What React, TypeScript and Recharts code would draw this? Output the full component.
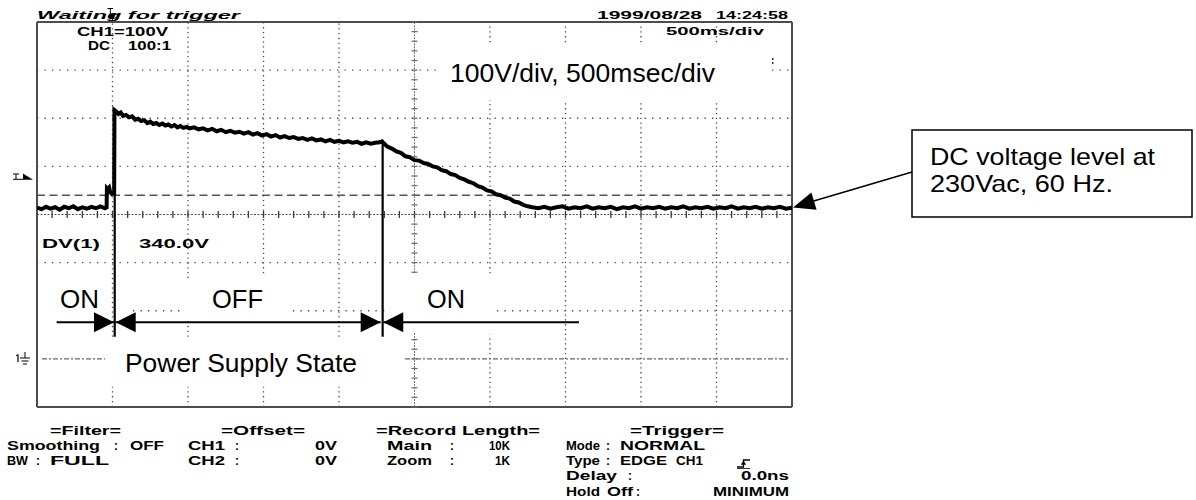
import React from 'react';
import { ComposedChart, Line, XAxis, YAxis, ReferenceLine, ReferenceDot } from 'recharts';

// CH1 trace: time (s, 500 ms/div) and voltage (V, 100 V/div)
const timeSec = [
  0.00, 0.03, 0.06, 0.09, 0.12, 0.15, 0.18, 0.21, 0.24, 0.27, 0.30, 0.33, 0.36, 0.39, 0.42, 0.45, 0.461,
  0.463, 0.47, 0.478, 0.485, 0.495, 0.505, 0.511, 0.513,
  0.525, 0.54, 0.555, 0.57, 0.59, 0.61, 0.63, 0.65, 0.67, 0.69,
  0.71, 0.73, 0.75, 0.77, 0.79, 0.81, 0.83, 0.85, 0.87, 0.89,
  0.91, 0.93, 0.95, 0.97, 0.99, 1.01, 1.04, 1.07, 1.10, 1.13,
  1.16, 1.19, 1.22, 1.25, 1.28, 1.31, 1.34, 1.37, 1.40, 1.43,
  1.46, 1.49, 1.52, 1.55, 1.58, 1.61, 1.64, 1.67, 1.70, 1.73,
  1.76, 1.79, 1.82, 1.85, 1.88, 1.91, 1.94, 1.97, 2.00, 2.03,
  2.06, 2.09, 2.12, 2.15, 2.18, 2.21, 2.24, 2.27, 2.285,
  2.30, 2.32, 2.35, 2.38, 2.41, 2.44, 2.47, 2.50, 2.53, 2.56,
  2.59, 2.62, 2.65, 2.68, 2.71, 2.74, 2.77, 2.80, 2.83, 2.86,
  2.89, 2.92, 2.95, 2.98, 3.01, 3.04, 3.07, 3.10, 3.13, 3.16,
  3.19, 3.22, 3.25, 3.28,
  3.32, 3.36, 3.40, 3.44, 3.48, 3.52, 3.56, 3.60, 3.64, 3.68,
  3.72, 3.76, 3.80, 3.84, 3.88, 3.92, 3.96, 4.00, 4.04, 4.08,
  4.12, 4.16, 4.20, 4.24, 4.28, 4.32, 4.36, 4.40, 4.44, 4.48,
  4.52, 4.56, 4.60, 4.64, 4.68, 4.72, 4.76, 4.80, 4.84, 4.88,
  4.92, 4.96, 5.00,
];
const ch1Volts = [
  314, 311, 316, 312, 315, 310, 316, 313, 317, 311, 315, 312, 316, 313, 317, 313, 315,
  355, 353, 356, 347, 343, 345, 341, 517,
  514, 509, 512, 505, 507, 502, 504, 497, 499, 494,
  496, 490, 493, 488, 490, 486, 489, 485, 487, 483,
  486, 481, 484, 480, 482, 479, 481, 477, 479, 475,
  478, 473, 476, 471, 474, 470, 472, 468, 471, 466,
  469, 464, 467, 462, 465, 460, 463, 459, 461, 457,
  459, 455, 458, 454, 456, 452, 455, 451, 453, 450,
  452, 449, 451, 447, 450, 447, 449, 450, 452,
  447, 441, 437, 431, 428, 421, 419, 413, 412, 407,
  405, 400, 398, 392, 390, 384, 382, 376, 373, 368,
  365, 359, 356, 350, 348, 342, 340, 335, 333, 327,
  325, 320, 317, 315,
  313, 316, 312, 315, 317, 312, 315, 313, 317, 312,
  315, 313, 316, 311, 315, 313, 317, 312, 315, 313,
  316, 312, 315, 313, 317, 312, 315, 313, 316, 312,
  315, 313, 317, 312, 315, 313, 316, 312, 315, 313,
  316, 312, 314,
];

// Screen divisions
const timeDomain = [0, 5];
const voltDomain = [-100, 700];
const cursorVolts = 340;
const centerVolts = 300;
const centerTime = 2.5;

// Power-supply state annotation (time boundaries in s)
const onOffEdges = [0.5146, 2.289];
const edgeTopVolts = [517, 449];

const W = 1196;
const H = 500;

const FONT = 'Liberation Sans, Arial, Helvetica, sans-serif';

const seg = (key: string, x1: number, y1: number, x2: number, y2: number, style: any) => (
  <ReferenceLine
    key={key}
    segment={[{ x: x1, y: y1 }, { x: x2, y: y2 }]}
    ifOverflow="visible"
    {...style}
  />
);

const hDot = { stroke: '#4a4a4a', strokeWidth: 1.3, strokeDasharray: '1.3 6.2' };
const vDot = { stroke: '#4a4a4a', strokeWidth: 1.3, strokeDasharray: '1.3 3.5' };

const vGrid: { t: number; spans: number[][] }[] = [
  { t: 0.5, spans: [[46, 700], [-100, -58]] },
  { t: 1.0, spans: [[168, 700], [46, 85], [-100, -58]] },
  { t: 1.5, spans: [[178, 700], [-100, -58]] },
  { t: 2.0, spans: [[46, 700], [-100, -58]] },
  { t: 3.0, spans: [[658, 700], [178, 538], [-100, 50]] },
  { t: 3.5, spans: [[658, 700], [-100, 538]] },
  { t: 4.0, spans: [[658, 700], [-100, 538]] },
  { t: 4.5, spans: [[658, 700], [-100, 538]] },
];
const hGrid: { v: number; spans: number[][] }[] = [
  { v: 600, spans: [[0, 2.669], [4.868, 5]] },
  { v: 500, spans: [[0, 5]] },
  { v: 400, spans: [[0, 5]] },
  { v: 200, spans: [[0, 5]] },
  { v: 100, spans: [[0.636, 0.98], [1.695, 2.3], [3.046, 5]] },
];

const hAxisTicks = Array.from({ length: 49 }, (_, i) => (i + 1) / 10);
const vAxisTicks = Array.from({ length: 41 }, (_, i) => -100 + i * 20).filter((v) => v < 54 || v > 178);

const arrowHead = (dir: 'l' | 'r') => (p: any) => {
  const cx = p.cx;
  const cy = p.cy;
  const b = dir === 'r' ? cx - 20 : cx + 20;
  return <polygon points={`${cx},${cy} ${b},${cy - 10} ${b},${cy + 10}`} fill="#000" />;
};
const hTickShape = (p: any) => (
  <line x1={p.cx} y1={p.cy - 3.5} x2={p.cx} y2={p.cy + 3.5} stroke="#3a3a3a" strokeWidth={1.3} />
);
const vTickShape = (p: any) => (
  <line x1={p.cx - 3} y1={p.cy} x2={p.cx + 3} y2={p.cy} stroke="#6a6a6a" strokeWidth={1.2} />
);

const B = ({ x, y, w, s = 12, italic = false, children }: any) => (
  <text
    x={x}
    y={y}
    fontSize={s}
    fontWeight="bold"
    fontStyle={italic ? 'italic' : 'normal'}
    fontFamily={FONT}
    fill="#000"
    {...(w ? { textLength: w, lengthAdjust: 'spacingAndGlyphs' } : {})}
  >
    {children}
  </text>
);
const R = ({ x, y, w, s = 26, children }: any) => (
  <text x={x} y={y} fontSize={s} fontFamily={FONT} fill="#000" textLength={w} lengthAdjust="spacingAndGlyphs">
    {children}
  </text>
);

export default function App() {
  const data = timeSec.map((t, i) => ({ t, v: ch1Volts[i] }));
  const frame = { stroke: '#4d4d4d', strokeWidth: 2 };
  const black = { stroke: '#000', strokeWidth: 2.2 };
  const arrowV = 76;
  const arrowBottom = 46;
  return (
    <div style={{ position: 'absolute', left: 0, top: 0, width: W, height: H, background: '#fff', overflow: 'hidden' }}>
      <ComposedChart width={W} height={H} data={data} margin={{ top: 22, right: 404, bottom: 93, left: 37 }}>
        <XAxis type="number" dataKey="t" domain={timeDomain} hide allowDataOverflow />
        <YAxis type="number" domain={voltDomain} hide allowDataOverflow />

        {vGrid.flatMap((g) => g.spans.map((s, j) => seg(`vg${g.t}-${j}`, g.t, s[0], g.t, s[1], vDot)))}
        {hGrid.flatMap((g) => g.spans.map((s, j) => seg(`hg${g.v}-${j}`, s[0], g.v, s[1], g.v, hDot)))}

        {seg('cax-v1', centerTime, 178, centerTime, 700, { stroke: '#777', strokeWidth: 1, strokeDasharray: '2 1' })}
        {seg('cax-v2', centerTime, -100, centerTime, 54, { stroke: '#777', strokeWidth: 1, strokeDasharray: '2 1' })}
        {seg('cax-h', 0, centerVolts, 5, centerVolts, { stroke: '#555', strokeWidth: 1, strokeDasharray: '2 1.5' })}
        {hAxisTicks.map((t) => (
          <ReferenceDot key={`ht${t}`} x={t} y={centerVolts} r={0} shape={hTickShape} ifOverflow="visible" />
        ))}
        {vAxisTicks.map((v) => (
          <ReferenceDot key={`vt${v}`} x={centerTime} y={v} r={0} shape={vTickShape} ifOverflow="visible" />
        ))}

        {seg('gnd1', 0.033, 0, 0.45, 0, { stroke: '#666', strokeWidth: 1.2, strokeDasharray: '5 2 2 2' })}
        {seg('gnd2', 2.437, 0, 4.987, 0, { stroke: '#666', strokeWidth: 1.2, strokeDasharray: '5 2 2 2' })}
        {seg('cursor', 0, cursorVolts, 5, cursorVolts, { stroke: '#555', strokeWidth: 1.3, strokeDasharray: '8 4.5' })}

        {seg('fl', 0, -100, 0, 700, frame)}
        {seg('fr', 5, -100, 5, 700, frame)}
        {seg('ft', 0, 700, 5, 700, frame)}
        {seg('fb', 0, -100, 5, -100, frame)}

        <Line
          type="linear"
          dataKey="v"
          stroke="#000"
          strokeWidth={4}
          dot={false}
          activeDot={false}
          isAnimationActive={false}
        />

        {seg('edge1', onOffEdges[0], edgeTopVolts[0], onOffEdges[0], arrowBottom, black)}
        {seg('edge2', onOffEdges[1], edgeTopVolts[1], onOffEdges[1], arrowBottom, black)}
        {seg('arr1', 0.13, arrowV, 0.51, arrowV, { stroke: '#000', strokeWidth: 2 })}
        {seg('arr2', 0.521, arrowV, 2.276, arrowV, { stroke: '#000', strokeWidth: 2 })}
        {seg('arr3', 2.293, arrowV, 3.589, arrowV, { stroke: '#000', strokeWidth: 2 })}
        <ReferenceDot x={0.51} y={arrowV} r={0} shape={arrowHead('r')} ifOverflow="visible" />
        <ReferenceDot x={0.521} y={arrowV} r={0} shape={arrowHead('l')} ifOverflow="visible" />
        <ReferenceDot x={2.276} y={arrowV} r={0} shape={arrowHead('r')} ifOverflow="visible" />
        <ReferenceDot x={2.293} y={arrowV} r={0} shape={arrowHead('l')} ifOverflow="visible" />
      </ComposedChart>

      <svg width={W} height={H} style={{ position: 'absolute', left: 0, top: 0, pointerEvents: 'none' }}>
        {/* header */}
        <B x={37} y={19} w={203} s={10.5} italic>Waiting for trigger</B>
        <B x={597} y={19} w={105} s={10}>1999/08/28</B>
        <B x={716} y={19} w={72} s={10}>14:24:58</B>
        <B x={77} y={36} w={91} s={12.5}>CH1=100V</B>
        <B x={88} y={50} w={22} s={12}>DC</B>
        <B x={128} y={50} w={43} s={12}>100:1</B>
        <B x={666} y={35} w={98} s={11.5}>500ms/div</B>
        <B x={42} y={247.5} w={58} s={12.5}>DV(1)</B>
        <B x={139} y={247.5} w={70} s={12.5}>340.0V</B>
        <rect x={772} y={58} width={1.5} height={2} fill="#333" />
        <rect x={772} y={62} width={1.5} height={2} fill="#333" />

        {/* trigger position marker (top) */}
        <line x1={107.5} y1={8.5} x2={113} y2={8.5} stroke="#000" strokeWidth={1} />
        <line x1={110.3} y1={8.5} x2={110.3} y2={14} stroke="#000" strokeWidth={1} />
        <polygon points="109,14 116,14 112.5,20.5" fill="#000" />
        {/* trigger level marker (left) */}
        <line x1={13} y1={174} x2={19} y2={174} stroke="#000" strokeWidth={1} />
        <line x1={16} y1={174} x2={16} y2={179} stroke="#000" strokeWidth={1} />
        <line x1={13} y1={179.3} x2={23} y2={179.3} stroke="#000" strokeWidth={1} />
        <polygon points="23,173.5 23,179.8 33,179.8" fill="#000" />
        {/* ground marker */}
        <line x1={16} y1={356} x2={18} y2={354.5} stroke="#000" strokeWidth={1} />
        <line x1={18} y1={354.5} x2={18} y2={362} stroke="#000" strokeWidth={1.2} />
        <line x1={25} y1={352} x2={25} y2={358} stroke="#000" strokeWidth={1} />
        <line x1={20} y1={358} x2={30} y2={358} stroke="#000" strokeWidth={1} />
        <line x1={21.5} y1={361} x2={28.5} y2={361} stroke="#000" strokeWidth={1} />
        <line x1={23} y1={364} x2={27} y2={364} stroke="#000" strokeWidth={1} />

        {/* annotation texts */}
        <R x={450} y={82} w={265}>100V/div, 500msec/div</R>
        <R x={60} y={308} w={39}>ON</R>
        <R x={212} y={308} w={51}>OFF</R>
        <R x={427} y={308} w={38}>ON</R>
        <R x={125} y={372} w={232}>Power Supply State</R>

        {/* callout */}
        <rect x={912} y={130} width={280} height={87} fill="#fff" stroke="#000" strokeWidth={1.5} />
        <R x={930} y={165} w={225} s={24}>DC voltage level at</R>
        <R x={930} y={192} w={183} s={24}>230Vac, 60 Hz.</R>
        <line x1={912} y1={172} x2={812} y2={201.5} stroke="#000" strokeWidth={1.5} />
        <polygon points="793,207.5 816.6,209.7 811.4,192.5" fill="#000" />

        {/* footer */}
        <B x={50} y={435} w={71}>=Filter=</B>
        <B x={221} y={435} w={84}>=Offset=</B>
        <B x={376} y={435} w={164}>=Record Length=</B>
        <B x={630} y={435} w={94}>=Trigger=</B>

        <B x={7} y={450} w={93}>Smoothing</B>
        <B x={114} y={450}>:</B>
        <B x={130} y={450} w={34}>OFF</B>
        <B x={188} y={450} w={37}>CH1</B>
        <B x={235} y={450}>:</B>
        <B x={315} y={450} w={22}>0V</B>
        <B x={387} y={450} w={45}>Main</B>
        <B x={450} y={450}>:</B>
        <B x={489} y={450} w={21}>10K</B>
        <B x={566} y={450} w={34}>Mode</B>
        <B x={606} y={450}>:</B>
        <B x={620} y={450} w={85}>NORMAL</B>

        <B x={7} y={465} w={21}>BW</B>
        <B x={36} y={465}>:</B>
        <B x={50} y={465} w={59}>FULL</B>
        <B x={188} y={465} w={37}>CH2</B>
        <B x={235} y={465}>:</B>
        <B x={315} y={465} w={22}>0V</B>
        <B x={387} y={465} w={45}>Zoom</B>
        <B x={450} y={465}>:</B>
        <B x={495} y={465} w={15}>1K</B>
        <B x={566} y={465} w={34}>Type</B>
        <B x={606} y={465}>:</B>
        <B x={620} y={465} w={47}>EDGE</B>
        <B x={676} y={465} w={27}>CH1</B>
        <path d="M737,467 H743.5 V460 H750" fill="none" stroke="#000" strokeWidth={1.3} />
        <polygon points="740.8,464.8 746.2,464.8 743.5,460.5" fill="#000" />
        <line x1={737} y1={468.5} x2={750} y2={468.5} stroke="#000" strokeWidth={0.8} />

        <B x={566} y={480} w={51}>Delay</B>
        <B x={628} y={480}>:</B>
        <B x={741} y={480} w={48}>0.0ns</B>

        <B x={566} y={495.5} w={34}>Hold</B>
        <B x={607} y={495.5} w={26}>Off</B>
        <B x={636} y={495.5}>:</B>
        <B x={713} y={495.5} w={76}>MINIMUM</B>
      </svg>
    </div>
  );
}
